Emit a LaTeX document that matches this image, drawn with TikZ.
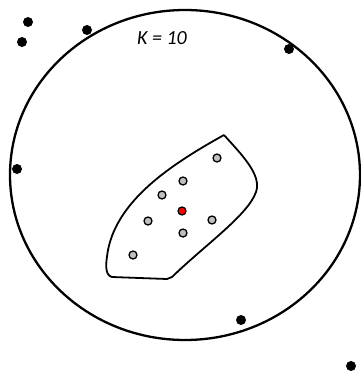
\documentclass[tikz,border=0pt]{standalone}
\usepackage{fontspec}
\setmainfont{Carlito}
\usepackage{tikz}
\usetikzlibrary{positioning}

\begin{document}
\begin{tikzpicture}[x=1pt,y=-1pt,
		blackdot/.style={circle, fill=black, inner sep=0pt, minimum size=10pt},
		nbrdot/.style={circle, draw=black, line width=1.3pt, fill=black!25, inner sep=0pt, minimum size=8pt},
		querydot/.style={circle, draw=black, line width=1.3pt, fill=red, inner sep=0pt, minimum size=8pt}]
		\useasboundingbox (0,0) rectangle (361,375);
		% outer region
		\draw[line width=2.3pt] (185,175) ellipse (175pt and 165pt);
		\node (k) at (162,38) {\fontsize{20}{24}\selectfont\itshape K = 10};
		% points outside / on the boundary
		\node[blackdot] (o1) at (28,22) {};
		\node[blackdot] (o2) at (22,42) {};
		\node[blackdot] (o3) at (87,30) {};
		\node[blackdot] (o4) at (289,49) {};
		\node[blackdot] (o5) at (17,169) {};
		\node[blackdot] (o6) at (241,320) {};
		\node[blackdot] (o7) at (351,366) {};
		% neighbourhood
		\draw[line width=1.8pt, line join=round] (224,135)
			.. controls (242,155) and (262,175) .. (256,192)
			.. controls (248,215) and (205,245) .. (172,277)
			-- (167,279) -- (112,277)
			.. controls (104,275) and (106,262) .. (108,250)
			.. controls (118,200) and (170,165) .. (224,135);
		\node[nbrdot] (n1) at (217,158) {};
		\node[nbrdot] (n2) at (183,181) {};
		\node[nbrdot] (n3) at (162,195) {};
		\node[nbrdot] (n4) at (148,221) {};
		\node[nbrdot] (n5) at (212,220) {};
		\node[nbrdot] (n6) at (183,233) {};
		\node[nbrdot] (n7) at (133,255) {};
		\node[querydot] (q) at (182,211) {};
	\end{tikzpicture}
\end{document}
